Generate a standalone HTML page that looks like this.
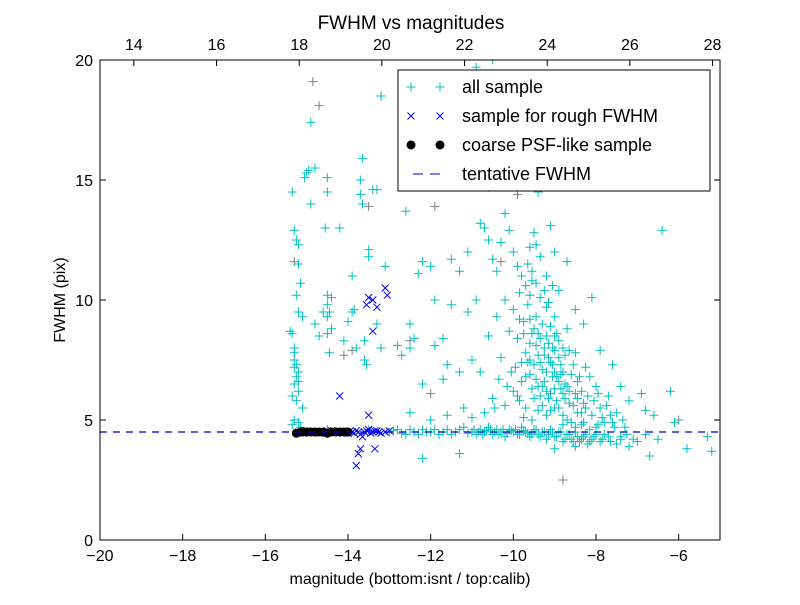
<!DOCTYPE html>
<html><head><meta charset="utf-8">
<style>
body{margin:0;background:#fff;}
svg text{font-family:"Liberation Sans",sans-serif;}
</style></head>
<body>
<svg id="chart" width="800" height="600" viewBox="0 0 800 600" xmlns="http://www.w3.org/2000/svg">
<rect width="800" height="600" fill="#fff"/>
<text x="411" y="29" font-size="19" text-anchor="middle">FWHM vs magnitudes</text>
<g id="marks"></g>
<rect x="100" y="60" width="620" height="480" fill="none" stroke="#000" stroke-width="1"/>
<g id="axes"></g>
<text x="410" y="584" font-size="16" text-anchor="middle">magnitude (bottom:isnt / top:calib)</text>
<text x="65" y="300" font-size="16" text-anchor="middle" transform="rotate(-90 65 300)">FWHM (pix)</text>
<g>
<rect x="398" y="70" width="312" height="121" fill="#fff" stroke="#000"/>
<g id="legend-marks"></g>
<text x="462" y="93" font-size="18">all sample</text>
<text x="462" y="122" font-size="18">sample for rough FWHM</text>
<text x="462" y="151" font-size="18">coarse PSF-like sample</text>
<text x="462" y="180" font-size="18">tentative FWHM</text>
</g>
</svg>
<script>
const xTicks=[-20,-18,-16,-14,-12,-10,-8,-6];
const topTicks=[14,16,18,20,22,24,26,28];
const yTicks=[0,5,10,15,20];
const tentativeFwhm=4.5;
const allSample=[
[-15.35,8.6],[-15.3,7.5],[-15.25,7.3],[-15.2,7.0],[-15.3,6.5],[-15.2,6.2],[-15.1,5.5],[-15.3,12.9],[-15.25,12.5],[-15.2,12.3],[-15.2,11.5],[-15.25,10.2],[-15.2,9.5],[-15.1,9.3],[-15.35,14.5],[-15.0,15.3],[-15.05,15.1],[-14.95,15.4],[-14.9,17.4],[-14.8,15.5],[-14.9,14.0],[-15.4,8.7],[-15.3,8.0],[-15.2,4.9],[-15.3,5.0],[-15.35,4.8],[-15.25,6.8],[-15.15,10.7],[-14.8,9.0],[-14.7,8.5],[-15.3,7.8],[-15.2,6.6],[-15.3,7.2],[-15.25,5.8],[-15.35,6.0],[-15.15,4.7],
[-14.5,15.1],[-14.5,14.5],[-14.55,13.0],[-14.5,10.2],[-14.4,10.1],[-14.5,9.8],[-14.45,9.5],[-14.5,9.3],[-14.4,8.8],[-14.5,8.6],[-14.45,7.8],[-14.6,9.5],[-14.2,13.0],[-14.0,9.1],[-14.1,8.3],[-13.9,9.5],[-13.9,11.0],[-13.85,9.6],[-13.8,8.0],[-13.7,14.4],[-13.65,14.0],[-13.7,15.0],[-13.65,15.9],[-13.6,8.3],[-13.6,7.5],[-13.55,7.3],[-13.5,12.1],[-13.5,11.8],[-13.4,14.6],[-13.3,14.6],[-13.2,18.5],[-13.3,9.0],[-13.2,8.0],[-13.1,11.4],[-12.8,8.1],[-12.7,7.7],[-12.6,13.7],[-12.5,9.0],[-12.5,8.0],[-12.4,8.4],[-12.3,11.1],[-12.2,11.6],[-12.2,6.5],[-12.0,11.4],[-11.9,10.0],[-11.9,8.1],[-11.7,8.4],[-11.7,6.7],[-11.6,7.3],[-11.5,11.7],[-11.5,9.8],[-11.3,11.2],[-11.3,7.0],[-11.1,12.0],[-11.1,9.5],[-11.0,7.5],[-10.9,10.0],[-10.8,13.2],[-10.6,14.7],[-10.5,16.2],[-10.9,19.7],[-10.5,20.0],[-12.5,5.3],[-12.0,5.0],[-11.6,5.2],[-11.2,5.5],
[-10.7,13.0],[-10.6,12.5],[-10.5,11.7],[-10.4,11.2],[-10.3,12.4],[-10.2,13.6],[-10.1,12.9],[-10.0,12.0],[-9.9,11.4],[-9.8,11.0],[-9.7,10.6],[-9.6,12.2],[-9.5,12.8],[-9.4,14.5],[-9.3,16.9],[-9.2,14.9],[-9.1,13.1],[-9.0,12.0],[-9.5,17.3],[-9.7,18.0],[-9.9,17.1],[-10.2,18.0],[-9.4,19.2],[-9.2,11.0],[-8.9,10.4],[-8.7,11.6],[-8.5,9.6],[-8.3,9.0],[-8.1,10.1],[-7.9,7.9],[-7.6,7.3],[-7.4,6.4],[-7.2,5.8],[-6.9,6.1],[-6.8,5.4],[-6.6,5.2],[-6.4,12.9],[-6.2,6.2],[-6.1,4.9],[-5.8,3.8],[-5.3,4.3],[-5.2,3.7],[-6.7,3.5],[-7.2,3.9],
[-10.8,7.0],[-10.6,8.5],[-10.4,9.3],[-10.3,7.6],[-10.2,10.0],[-10.1,8.7],[-10.0,9.6],[-9.95,7.2],[-9.9,8.4],[-9.85,10.3],[-9.8,6.6],[-9.75,9.1],[-9.7,7.8],[-9.65,9.8],[-9.6,6.9],[-9.6,8.2],[-9.55,10.8],[-9.5,5.9],[-9.5,7.3],[-9.45,9.3],[-9.4,6.4],[-9.4,8.6],[-9.35,10.1],[-9.3,5.6],[-9.3,7.1],[-9.25,8.0],[-9.2,9.7],[-9.2,6.2],[-9.15,7.6],[-9.1,8.9],[-9.1,5.4],[-9.05,6.8],[-9.0,7.9],[-9.0,9.3],[-8.95,5.8],[-8.9,6.6],[-8.9,8.3],[-8.85,7.3],[-8.8,5.2],[-8.8,6.1],[-8.75,7.7],[-8.7,8.8],[-8.65,5.7],[-8.6,6.9],[-8.6,4.9],[-8.5,7.8],[-8.5,6.1],[-8.45,5.3],[-8.4,6.8],[-8.35,4.8],[-8.3,5.7],[-8.25,7.2],[-8.2,6.0],[-8.15,4.6],[-8.1,5.2],[-8.0,6.4],[-7.95,4.8],[-7.9,5.5],[-7.8,4.4],[-7.7,6.0],[-7.6,4.9],[-7.5,5.3],[-7.4,4.3],[-7.3,4.7],[-9.3,9.0],[-9.4,7.7],[-9.6,7.5],[-9.25,6.6],[-9.05,7.3],[-8.95,8.6],[-9.15,5.9],[-9.35,6.0],[-9.55,6.3],[-9.45,8.1],[-8.7,6.4],[-8.8,7.0],[-9.0,6.3],[-9.2,7.0],[-9.1,6.1],[-8.9,5.5],[-9.7,5.5],[-9.85,5.8],[-10.0,6.2],[-10.2,5.6],[-10.5,5.9],[-10.7,5.3],[-11.0,5.1],
[-9.65,11.5],[-9.55,11.2],[-9.45,10.7],[-9.35,11.8],[-9.25,10.4],[-9.15,9.9],[-9.05,10.6],[-9.45,12.3],[-9.6,9.2],[-9.5,8.8],[-9.35,8.4],[-9.2,8.5],[-9.1,7.4],[-9.0,7.0],[-8.9,7.6],[-8.85,6.9],[-8.75,6.5],[-8.65,7.9],[-8.55,7.3],[-8.45,6.6],[-8.35,6.2],[-8.25,5.5],[-8.15,6.8],[-8.05,5.8],[-7.95,6.1],[-7.85,5.1],[-7.75,5.6],[-7.65,5.2],[-7.55,4.7],[-7.35,5.0],[-9.7,6.8],[-9.65,7.4],[-9.55,8.6],[-9.45,6.7],[-9.35,7.4],[-9.25,7.7],[-9.15,8.2],[-9.05,8.0],[-8.95,6.8],[-8.85,6.3],[-8.75,5.9],[-8.65,6.2],[-8.55,5.6],[-8.45,5.9],[-8.35,5.3],[-9.8,7.4],[-9.9,6.0],[-10.05,7.0],[-10.15,6.4],[-10.35,6.7],[-10.45,5.5],[-9.75,5.1],[-9.55,5.0],[-9.4,5.4],[-9.2,5.2],[-9.0,5.5],[-8.8,4.8],[-8.7,5.0],[-8.5,4.7],[-8.3,4.9],[-8.0,4.7],[-7.8,4.9],[-9.3,6.4],[-9.0,8.5],[-8.8,8.0],[-9.6,10.2],[-9.75,8.6],[-9.85,9.2],
[-15.0,4.5],[-14.5,4.6],[-14.0,4.5],[-13.5,4.6],[-13.0,4.5],[-12.8,4.6],[-12.6,4.4],[-12.4,4.5],[-12.2,4.6],[-12.0,4.5],[-11.8,4.4],[-11.6,4.6],[-11.4,4.5],[-11.2,4.7],[-11.0,4.5],[-10.9,4.4],[-10.8,4.6],[-10.7,4.5],[-10.6,4.7],[-10.5,4.4],[-10.4,4.6],[-10.3,4.5],[-10.2,4.3],[-10.1,4.6],[-10.0,4.5],[-9.9,4.4],[-9.8,4.7],[-9.7,4.5],[-9.6,4.3],[-9.5,4.6],[-9.4,4.4],[-9.3,4.5],[-9.2,4.2],[-9.1,4.6],[-9.0,4.3],[-8.9,4.5],[-8.8,4.1],[-8.7,4.4],[-8.6,4.2],[-8.5,4.5],[-8.4,4.1],[-8.3,4.3],[-8.2,4.0],[-8.1,4.2],[-8.0,4.4],[-7.9,4.1],[-7.7,4.3],[-7.5,4.0],[-7.0,4.1],[-6.8,4.4],[-6.5,4.2],[-12.2,3.4],[-11.3,3.6],[-9.0,3.8],[-8.5,3.9],
[-12.9,4.55],[-12.7,4.45],[-12.5,4.6],[-12.3,4.4],[-12.1,4.5],[-11.9,4.6],[-11.7,4.5],[-11.5,4.4],[-11.3,4.6],[-11.1,4.45],[-10.95,4.6],[-10.85,4.5],[-10.75,4.4],[-10.65,4.55],[-10.55,4.6],[-10.45,4.5],[-10.35,4.4],[-10.25,4.6],[-10.15,4.45],[-10.05,4.55],[-9.95,4.6],[-9.85,4.4],[-9.75,4.55],[-9.65,4.45],[-9.55,4.4],[-9.45,4.6],[-9.35,4.3],[-9.25,4.5],[-9.15,4.4],[-9.05,4.5],[-8.95,4.3],[-8.85,4.5],[-8.75,4.2],[-8.65,4.4],[-8.55,4.1],[-8.45,4.3],[-8.35,4.2],[-8.25,4.4],[-8.15,4.1],[-8.05,4.3],[-7.85,4.2],[-7.65,4.1],[-7.4,4.2],[-7.25,4.4],[-7.1,4.2]
];
const graySample=[[-14.85,19.1],[-14.7,18.1],[-13.2,18.5],[-13.5,13.9],[-11.9,13.9],[-12.5,8.3],[-14.1,7.7],[-8.8,2.5],[-6.0,5.0],[-10.3,11.6],[-9.9,14.4],[-15.3,11.6],[-13.9,7.9],[-12.0,6.1]];
const roughSample=[[-14.2,6.0],[-13.5,5.2],[-13.8,3.1],[-13.75,3.6],[-13.7,3.8],[-13.35,3.8],[-13.55,9.8],[-13.3,9.7],[-13.4,10.0],[-13.5,10.1],[-13.05,10.2],[-13.1,10.5],[-13.4,8.7],
[-15.2,4.5],[-15.1,4.45],[-15.0,4.55],[-14.9,4.5],[-14.8,4.5],[-14.7,4.45],[-14.6,4.5],[-14.5,4.55],[-14.4,4.55],[-14.3,4.5],[-14.2,4.5],[-14.1,4.45],[-14.0,4.45],[-13.95,4.55],[-13.9,4.5],[-13.85,4.45],[-13.8,4.55],[-13.75,4.5],[-13.7,4.4],[-13.6,4.5],[-13.55,4.55],[-13.5,4.6],[-13.45,4.45],[-13.4,4.5],[-13.35,4.55],[-13.3,4.55],[-13.25,4.5],[-13.2,4.45],[-13.1,4.5],[-13.0,4.55],[-13.65,4.3]];
const psfSample=[[-15.25,4.45],[-15.15,4.5],[-15.1,4.5],[-15.0,4.5],[-14.9,4.5],[-14.8,4.5],[-14.7,4.5],[-14.6,4.5],[-14.5,4.45],[-14.4,4.5],[-14.3,4.5],[-14.2,4.5],[-14.1,4.5],[-14.0,4.5]];

const X0=100,X1=720,Y0=540,Y1=60;
const sx=v=>X0+(v+20)/15*(X1-X0);
const sy=v=>Y0-v/20*(Y0-Y1);
const stop=v=>X0+(v-13.18)/15*(X1-X0);
const NS="http://www.w3.org/2000/svg";
function mk(tag,attrs,parent){const e=document.createElementNS(NS,tag);for(const k in attrs)e.setAttribute(k,attrs[k]);parent.appendChild(e);return e;}
const marks=document.getElementById('marks');
const axes=document.getElementById('axes');
const clip=mk('clipPath',{id:'pc'},marks);mk('rect',{x:100,y:60,width:620,height:480},clip);
const g=mk('g',{'clip-path':'url(#pc)'},marks);
function plus(x,y,c,p){return mk('path',{d:`M${x-4.5} ${y}H${x+4.5}M${x} ${y-4.5}V${y+4.5}`,stroke:c,'stroke-width':1,fill:'none'},p);}
function cross(x,y,c,p){return mk('path',{d:`M${x-3.5} ${y-3.5}L${x+3.5} ${y+3.5}M${x-3.5} ${y+3.5}L${x+3.5} ${y-3.5}`,stroke:c,'stroke-width':1,fill:'none'},p);}
graySample.forEach(d=>{const e=plus(sx(d[0]),sy(d[1]),'#808080',g);

});
allSample.forEach(d=>{const e=plus(sx(d[0]),sy(d[1]),'#00bfbf',g);

});
roughSample.forEach(d=>{const e=cross(sx(d[0]),sy(d[1]),'#0000ff',g);

});
psfSample.forEach(d=>{const e=mk('circle',{cx:sx(d[0]),cy:sy(d[1]),r:4.5,fill:'#000'},g);

});
const tl=mk('line',{x1:X0,x2:X1,y1:sy(tentativeFwhm),y2:sy(tentativeFwhm),stroke:'#0000cc','stroke-width':1.2,'stroke-dasharray':'7,6'},g);


xTicks.forEach(v=>{const x=sx(v);
mk('line',{x1:x,x2:x,y1:Y0,y2:Y0-6,stroke:'#000'},axes);
const t=mk('text',{x:x,y:561,'font-size':16,'text-anchor':'middle'},axes);t.textContent=(v<0?'\u2212'+(-v):v);

});
topTicks.forEach(v=>{const x=stop(v);
mk('line',{x1:x,x2:x,y1:Y1,y2:Y1+6,stroke:'#000'},axes);
const t=mk('text',{x:x,y:50,'font-size':16,'text-anchor':'middle'},axes);t.textContent=v;

});
yTicks.forEach(v=>{const y=sy(v);
mk('line',{x1:X0,x2:X0+6,y1:y,y2:y,stroke:'#000'},axes);
mk('line',{x1:X1,x2:X1-6,y1:y,y2:y,stroke:'#000'},axes);
const t=mk('text',{x:93,y:y+6,'font-size':16,'text-anchor':'end'},axes);t.textContent=v;

});
const lm=document.getElementById('legend-marks');
plus(411,87,'#00bfbf',lm);plus(440,87,'#00bfbf',lm);
cross(411,116,'#0000ff',lm);cross(440,116,'#0000ff',lm);
mk('circle',{cx:411,cy:145,r:4.5,fill:'#000'},lm);mk('circle',{cx:440,cy:145,r:4.5,fill:'#000'},lm);
mk('line',{x1:413,x2:423,y1:174,y2:174,stroke:'#0000cc'},lm);mk('line',{x1:430,x2:440,y1:174,y2:174,stroke:'#0000cc'},lm);
</script>
</body></html>
